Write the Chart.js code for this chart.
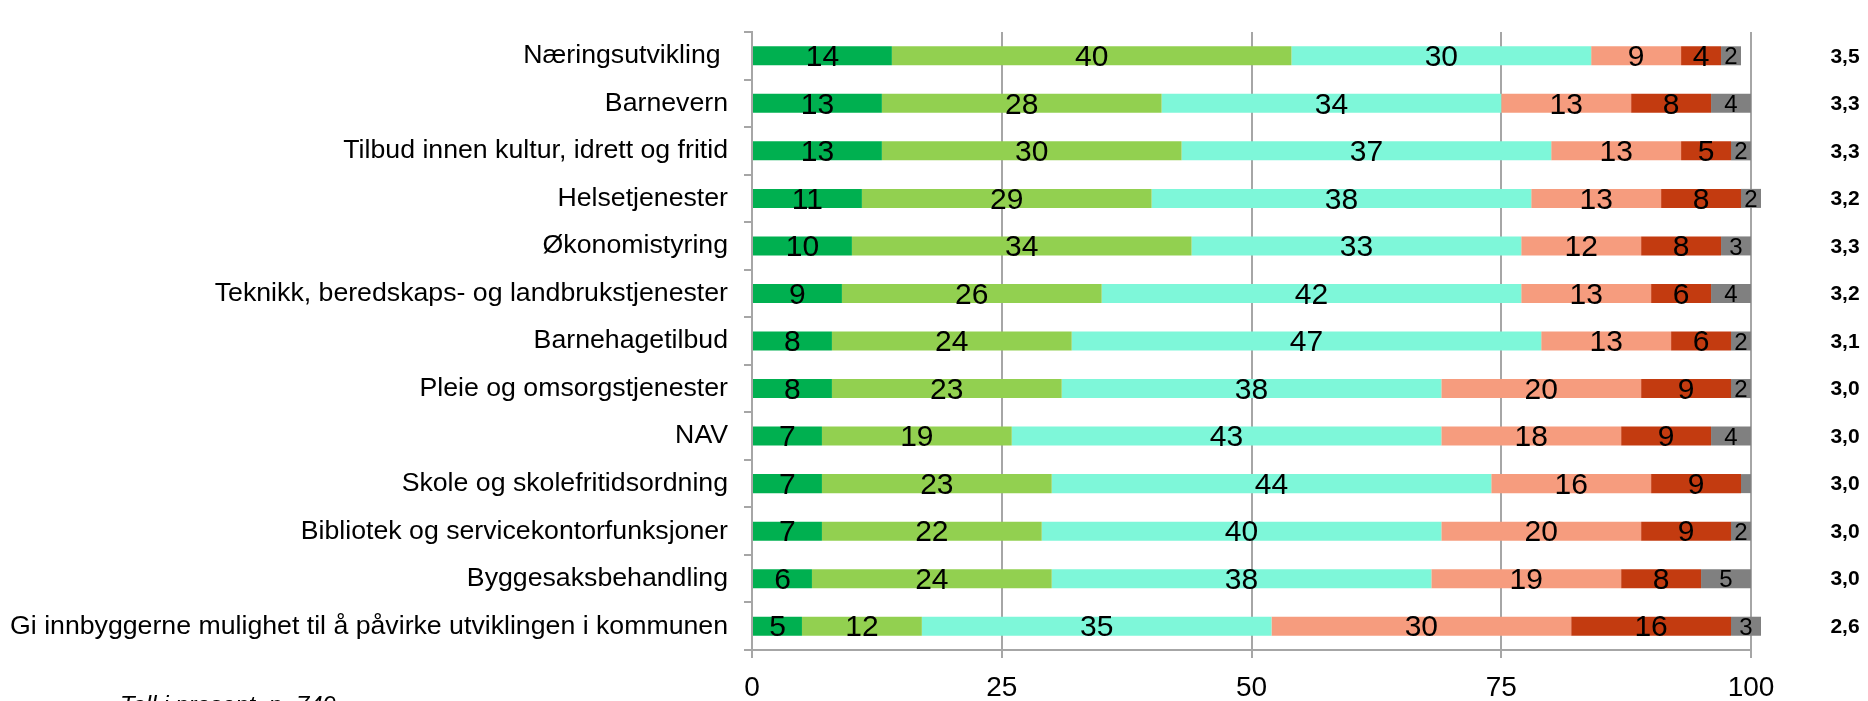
<!DOCTYPE html>
<html><head><meta charset="utf-8">
<script src="https://cdn.jsdelivr.net/npm/chart.js@4"></script>
<style>html,body{margin:0;padding:0;background:#fff;overflow:hidden}#wrap{width:1868px;height:701px;position:relative}</style>
</head><body><div id="wrap"><canvas id="c" width="1868" height="701"></canvas></div>
<script>
const categories = [
  "Næringsutvikling ",
  "Barnevern",
  "Tilbud innen kultur, idrett og fritid",
  "Helsetjenester",
  "Økonomistyring",
  "Teknikk, beredskaps- og landbrukstjenester",
  "Barnehagetilbud",
  "Pleie og omsorgstjenester",
  "NAV",
  "Skole og skolefritidsordning",
  "Bibliotek og servicekontorfunksjoner",
  "Byggesaksbehandling",
  "Gi innbyggerne mulighet til å påvirke utviklingen i kommunen"
];
const svaertFornoyd   = [14, 13, 13, 11, 10, 9, 8, 8, 7, 7, 7, 6, 5];
const fornoyd         = [40, 28, 30, 29, 34, 26, 24, 23, 19, 23, 22, 24, 12];
const noeFornoyd      = [30, 34, 37, 38, 33, 42, 47, 38, 43, 44, 40, 38, 35];
const noeMisfornoyd   = [9, 13, 13, 13, 12, 13, 13, 20, 18, 16, 20, 19, 30];
const misfornoyd      = [4, 8, 5, 8, 8, 6, 6, 9, 9, 9, 9, 8, 16];
const svaertMisfornoyd= [2, 4, 2, 2, 3, 4, 2, 2, 4, 1, 2, 5, 3];
const averages = ["3,5","3,3","3,3","3,2","3,3","3,2","3,1","3,0","3,0","3,0","3,0","3,0","2,6"];
const xTickValues = [0, 25, 50, 75, 100];
const footnote = "Tall i prosent, n=749";

const seriesColors = ["#00B050", "#92D050", "#7EF7D9", "#F69C7E", "#C33B10", "#808080"];
const seriesData = [svaertFornoyd, fornoyd, noeFornoyd, noeMisfornoyd, misfornoyd, svaertMisfornoyd];
const labelFonts = ["30px", "30px", "30px", "30px", "30px", "24px"];
const FONT = "'Liberation Sans', Arial, sans-serif";
const GRID = "#A6A6A6";

const datasets = seriesData.map((d, i) => ({
  data: d,
  backgroundColor: seriesColors[i],
  borderWidth: 0,
  barPercentage: 0.4,
  categoryPercentage: 1.0,
  clip: false
}));

const labelPlugin = {
  id: 'segLabels',
  afterDatasetsDraw(chart) {
    const ctx = chart.ctx;
    ctx.save();
    ctx.fillStyle = '#000';
    ctx.textAlign = 'center';
    ctx.textBaseline = 'middle';
    chart.data.datasets.forEach((ds, di) => {
      const meta = chart.getDatasetMeta(di);
      ctx.font = labelFonts[di] + ' ' + FONT;
      meta.data.forEach((bar, i) => {
        const v = ds.data[i];
        if (v < 1.5) return;
        const p = bar.getProps(['x', 'y', 'base'], true);
        ctx.fillText(String(v), (p.x + p.base) / 2, p.y + 2);
      });
    });
    const ys = chart.scales.y;
    ctx.font = 'bold 21px ' + FONT;
    averages.forEach((a, i) => {
      ctx.fillText(a, 1845, ys.getPixelForTick(i) + 1);
    });
    ctx.font = 'italic 24px ' + FONT;
    ctx.textAlign = 'left';
    ctx.textBaseline = 'top';
    ctx.fillText(footnote, 120, 694);
    ctx.restore();
  }
};

new Chart(document.getElementById('c'), {
  type: 'bar',
  data: { labels: categories, datasets },
  options: {
    indexAxis: 'y',
    responsive: false,
    devicePixelRatio: 1,
    animation: false,
    layout: { padding: { left: 0, right: 117, top: 13, bottom: 0 } },
    plugins: { legend: { display: false }, tooltip: { enabled: false }, title: { display: false } },
    scales: {
      x: {
        stacked: true,
        min: 0, max: 100,
        afterBuildTicks(scale) { scale.ticks = xTickValues.map(v => ({ value: v })); },
        ticks: { color: '#000', font: { size: 28, family: FONT }, padding: 13, maxRotation: 0 },
        grid: { color: GRID, lineWidth: 2, tickLength: 8, drawTicks: true },
        border: { color: GRID, width: 2 },
        afterFit(scale) { scale.height = 51; }
      },
      y: {
        stacked: true,
        ticks: { color: '#000', font: { size: 26.7, family: FONT }, padding: 16 },
        grid: { offset: true, drawOnChartArea: false, color: GRID, lineWidth: 2, tickLength: 8 },
        border: { color: GRID, width: 2 },
        afterFit(scale) { scale.width = 752; }
      }
    }
  },
  plugins: [labelPlugin]
});
</script></body></html>
